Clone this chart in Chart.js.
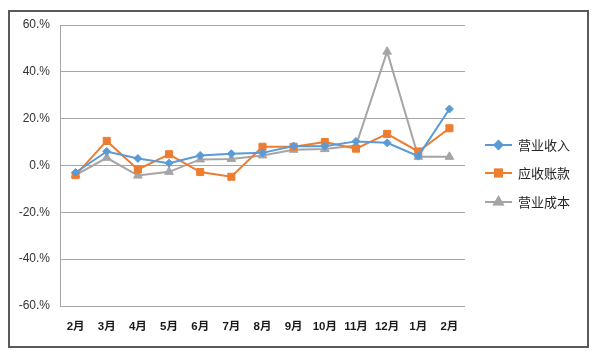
<!DOCTYPE html>
<html>
<head>
<meta charset="utf-8">
<script src="https://cdn.jsdelivr.net/npm/chart.js@4/dist/chart.umd.min.js"></script>
<style>
html,body{margin:0;padding:0;background:#fff;width:600px;height:357px;overflow:hidden;}
#frame{position:absolute;left:8px;top:10px;width:577px;height:334px;border:2px solid #5a5a5a;}
#wrap{position:absolute;left:0;top:0;width:600px;height:357px;}
</style>
</head>
<body>
<div id="frame"></div>
<div id="wrap"><canvas id="c" width="600" height="357"></canvas></div>
<script>
const categories = ["2月","3月","4月","5月","6月","7月","8月","9月","10月","11月","12月","1月","2月"];
const revenue     = [-3.0, 6.0, 3.0, 1.0, 4.3, 5.0, 5.4, 8.3, 8.2, 10.3, 9.7, 4.0, 24.1];
const receivables = [-4.1, 10.5, -1.7, 4.8, -2.8, -4.8, 8.0, 8.0, 10.0, 7.2, 13.5, 6.0, 15.9];
const cost        = [-4.1, 3.3, -4.3, -2.7, 2.6, 2.8, 4.3, 6.7, 7.0, 8.5, 48.6, 3.7, 3.7];
const seriesNames = ["营业收入","应收账款","营业成本"];
const yTicks = [-60, -40, -20, 0, 20, 40, 60];

const colors = ["#5b9bd5", "#ed7d31", "#a5a5a5"];
const styles = ["rectRot", "rect", "triangle"];
const radii = [4, 5, 5];

const legendPlugin = {
  id: 'customLegend',
  afterDraw(chart) {
    const ctx = chart.ctx;
    const ys = [145, 173, 202];
    chart.data.datasets.forEach((ds, i) => {
      const y = ys[i];
      ctx.save();
      ctx.strokeStyle = ds.borderColor;
      ctx.lineWidth = 2;
      ctx.beginPath();
      ctx.moveTo(485, y); ctx.lineTo(512, y); ctx.stroke();
      Chart.helpers.drawPoint(ctx, {pointStyle: ds.pointStyle, radius: ds.pointRadius, borderWidth: 1}, 498.5, y);
      ctx.fillStyle = ds.backgroundColor;
      ctx.strokeStyle = ds.borderColor;
      ctx.beginPath();
      Chart.helpers.drawPoint(ctx, {pointStyle: ds.pointStyle, radius: ds.pointRadius - 0.5, borderWidth: 1}, 498.5, y);
      ctx.fillStyle = '#262626';
      ctx.font = '13px "Noto Sans CJK SC", sans-serif';
      ctx.textBaseline = 'middle';
      ctx.textAlign = 'left';
      ctx.fillText(ds.label, 518, y);
      ctx.restore();
    });
  }
};

const datasets = [revenue, receivables, cost].map((d, i) => ({
  label: seriesNames[i],
  data: d,
  borderColor: colors[i],
  backgroundColor: colors[i],
  borderWidth: 2,
  pointStyle: styles[i],
  pointRadius: radii[i],
  pointBorderWidth: 1,
  tension: 0
}));

new Chart(document.getElementById('c'), {
  type: 'line',
  data: { labels: categories, datasets },
  options: {
    responsive: false,
    animation: false,
    devicePixelRatio: 1,
    layout: { padding: { left: 0, right: 135, top: 25, bottom: 0 } },
    plugins: { legend: { display: false }, tooltip: { enabled: false } },
    scales: {
      x: {
        offset: true,
        grid: { display: false, drawTicks: false },
        border: { display: false },
        ticks: {
          padding: 14,
          color: '#1a1a1a',
          font: { family: '"Liberation Sans", "Noto Sans CJK SC", sans-serif', size: 11.5, weight: 'bold' },
          maxRotation: 0, autoSkip: false
        },
        afterFit(s) { s.height = 51; }
      },
      y: {
        min: -60, max: 60,
        afterBuildTicks(s) { s.ticks = yTicks.map(v => ({ value: v })); },
        grid: { color: '#a6a6a6', lineWidth: 1, drawTicks: false },
        border: { display: true, color: '#a6a6a6', width: 1 },
        ticks: {
          padding: 10,
          color: '#333333',
          font: { family: '"Liberation Sans", sans-serif', size: 12 },
          callback: v => v + '.%'
        },
        afterFit(s) { s.width = 60; }
      }
    }
  },
  plugins: [legendPlugin]
});
</script>
</body>
</html>
